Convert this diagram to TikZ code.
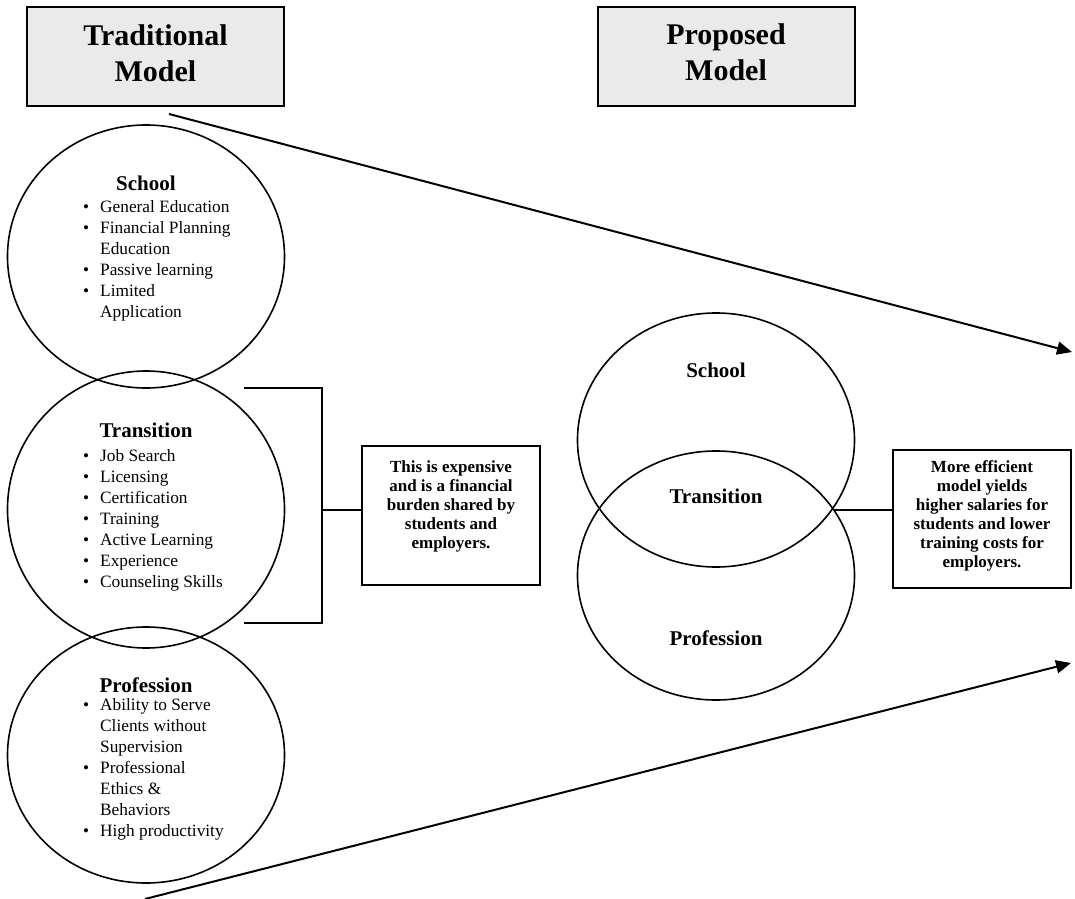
\documentclass[tikz,border=0pt]{standalone}
\usepackage{fontspec}
\setmainfont{Liberation Serif}
\usetikzlibrary{arrows.meta,shapes.geometric}
\definecolor{boxgray}{HTML}{EAEAEA}
\newcommand{\itm}[1]{\makebox[17bp][l]{\textbullet}#1}
\newcommand{\itc}[1]{\makebox[17bp]{}#1}
\begin{document}
\begin{tikzpicture}[x=1bp,y=-1bp,
  titlebox/.style={draw, line width=2bp, fill=boxgray, minimum width=257bp, minimum height=99bp, inner sep=0pt},
  titletext/.style={font=\fontsize{30bp}{36bp}\selectfont\bfseries, align=center, inner sep=0pt},
  ring/.style={draw, ellipse, line width=1.6bp, inner sep=0pt},
  head/.style={font=\fontsize{21bp}{24bp}\selectfont\bfseries, inner sep=0pt},
  items/.style={font=\fontsize{17.3bp}{21bp}\selectfont, align=left, inner sep=0pt},
  notebox/.style={draw, line width=2bp, inner sep=0pt},
  notetext/.style={font=\fontsize{17bp}{19bp}\selectfont\bfseries, align=center, inner sep=0pt},
  link/.style={line width=1.8bp},
  arr/.style={line width=2bp, -{Triangle[length=15bp,width=13bp]}}]
\useasboundingbox (0,0) rectangle (1075,899);

% title boxes
\node[titlebox] (tbox) at (155.5,56.5) {};
\node[titletext, anchor=base] (ttext) at (155.5,81) {Traditional\\Model};
\node[titlebox] (pbox) at (726,56.5) {};
\node[titletext, anchor=base] (ptext) at (726,80.5) {Proposed\\Model};

% traditional circles
\node[ring, minimum width=277bp, minimum height=263bp] (school) at (146,256.5) {};
\node[ring, minimum width=277bp, minimum height=277bp] (trans) at (146,509.5) {};
\node[ring, minimum width=277bp, minimum height=256bp] (prof) at (146,755) {};

\node[head, anchor=base] (schoolh) at (146,190.5) {School};
\node[items, anchor=base west] (schooli) at (83,317) {\itm{General Education}\\\itm{Financial Planning}\\\itc{Education}\\\itm{Passive learning}\\\itm{Limited}\\\itc{Application}};

\node[head, anchor=base] (transh) at (146,437) {Transition};
\node[items, anchor=base west] (transi) at (83,587) {\itm{Job Search}\\\itm{Licensing}\\\itm{Certification}\\\itm{Training}\\\itm{Active Learning}\\\itm{Experience}\\\itm{Counseling Skills}};

\node[head, anchor=base] (profh) at (146,692) {Profession};
\node[items, anchor=base west] (profi) at (83,836) {\itm{Ability to Serve}\\\itc{Clients without}\\\itc{Supervision}\\\itm{Professional}\\\itc{Ethics \&}\\\itc{Behaviors}\\\itm{High productivity}};

% bracket and note 1
\coordinate (bt) at (244,388);
\coordinate (btr) at (322,388);
\coordinate (bbr) at (322,623);
\coordinate (bb) at (244,623);
\coordinate (bm) at (322,510);
\draw[link] (bt) -- (btr) -- (bbr) -- (bb);
\node[notebox, minimum width=178bp, minimum height=139bp] (note1) at (451,515.5) {};
\node[notetext, anchor=base] (note1t) at (451,548) {This is expensive\\and is a financial\\burden shared by\\students and\\employers.};
\draw[link] (bm) -- (bm -| note1.west);

% proposed circles
\node[ring, minimum width=277bp, minimum height=254bp] (pschool) at (716,440) {};
\node[ring, minimum width=277bp, minimum height=249bp] (pprof) at (716,575.5) {};
\node[head, anchor=base] (pschoolh) at (716,377) {School};
\node[head, anchor=base] (ptransh) at (716,503) {Transition};
\node[head, anchor=base] (pprofh) at (716,645) {Profession};

\node[notebox, minimum width=178bp, minimum height=138bp] (note2) at (982,519) {};
\node[notetext, anchor=base] (note2t) at (982,567) {More efficient\\model yields\\higher salaries for\\students and lower\\training costs for\\employers.};
\coordinate (px) at (833,510);
\draw[link] (px) -- (px -| note2.west);

% arrows
\coordinate (a1s) at (169,114);
\coordinate (a1e) at (1072,352);
\coordinate (a2s) at (145,899);
\coordinate (a2e) at (1071,663);
\draw[arr] (a1s) -- (a1e);
\draw[arr] (a2s) -- (a2e);
\end{tikzpicture}
\end{document}
